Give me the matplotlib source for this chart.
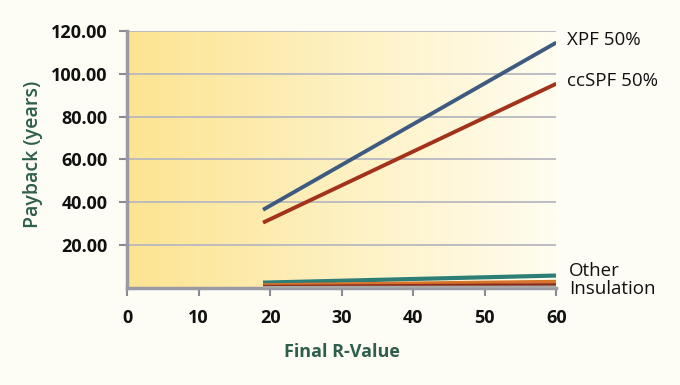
import numpy as np
import matplotlib.pyplot as plt

plt.rcParams['font.family'] = ['Open Sans', 'DejaVu Sans']

r_value = [19, 60]
xpf = [36.5, 114.5]
ccspf = [30.5, 95.3]
other_teal = [2.5, 5.8]
other_orange = [1.4, 3.0]
other_red = [0.8, 1.6]
other_gray = [0.3, 0.5]

xticks = [0, 10, 20, 30, 40, 50, 60]
yticks = [20, 40, 60, 80, 100, 120]

bg = '#fefdf5'
fig = plt.figure(figsize=(6.8, 3.85), dpi=100, facecolor=bg)
ax = fig.add_axes([0.187, 0.252, 0.631, 0.668])

# yellow to white gradient behind the plot
grad = np.linspace(0, 1, 256).reshape(1, -1)
left = np.array([253, 228, 145]) / 255
right = np.array([255, 253, 240]) / 255
img = left[None, None, :] * (1 - grad[..., None]) + right[None, None, :] * grad[..., None]
ax.imshow(img, extent=[0, 60, 0, 120], aspect='auto', zorder=0)

for y in yticks:
    ax.axhline(y, color='#b8b8c0', lw=1.3, zorder=1)

ax.plot(r_value, xpf, color='#3d5a80', lw=2.8, solid_capstyle='butt', zorder=3)
ax.plot(r_value, ccspf, color='#a3321b', lw=2.8, solid_capstyle='butt', zorder=3)
ax.plot(r_value, other_teal, color='#2e7e78', lw=3, solid_capstyle='butt', zorder=3)
ax.plot(r_value, other_orange, color='#d8732c', lw=2.5, solid_capstyle='butt', zorder=3)
ax.plot(r_value, other_red, color='#8a2a18', lw=2, solid_capstyle='butt', zorder=3)
ax.plot(r_value, other_gray, color='#a8a8a8', lw=2, solid_capstyle='butt', zorder=3)

ax.set_xlim(0, 60)
ax.set_ylim(0, 120)
ax.set_facecolor(bg)
ax.set_xticks(xticks)
ax.set_yticks(yticks)
ax.set_yticklabels(['%.2f' % v for v in yticks])
for s in ['top', 'right']:
    ax.spines[s].set_visible(False)
for s in ['left', 'bottom']:
    ax.spines[s].set_color('#9a9aa4')
    ax.spines[s].set_linewidth(2.5)
ax.tick_params(axis='both', colors='#8a8a94', width=1.5, length=6,
               labelcolor='#111111', labelsize=13)
ax.tick_params(axis='x', pad=9)
ax.tick_params(axis='y', pad=8)
for t in ax.get_xticklabels() + ax.get_yticklabels():
    t.set_fontweight('bold')

ax.set_xlabel('Final R-Value', color='#2e5e4c', fontsize=13, fontweight='bold', labelpad=12)
ax.set_ylabel('Payback (years)', color='#2e5e4c', fontsize=14, fontweight='semibold')
ax.yaxis.set_label_coords(-0.197, 0.52)

ax.text(61.5, xpf[1] + 1, 'XPF 50%', fontsize=13.5, color='#111111', va='center', clip_on=False)
ax.text(61.5, ccspf[1] + 1.5, 'ccSPF 50%', fontsize=13.5, color='#111111', va='center', clip_on=False)
ax.text(61.8, 3.5, 'Other\nInsulation', fontsize=13.5, color='#111111', va='center',
        linespacing=1.0, clip_on=False)

fig.savefig('out.png', dpi=100, facecolor=bg)
